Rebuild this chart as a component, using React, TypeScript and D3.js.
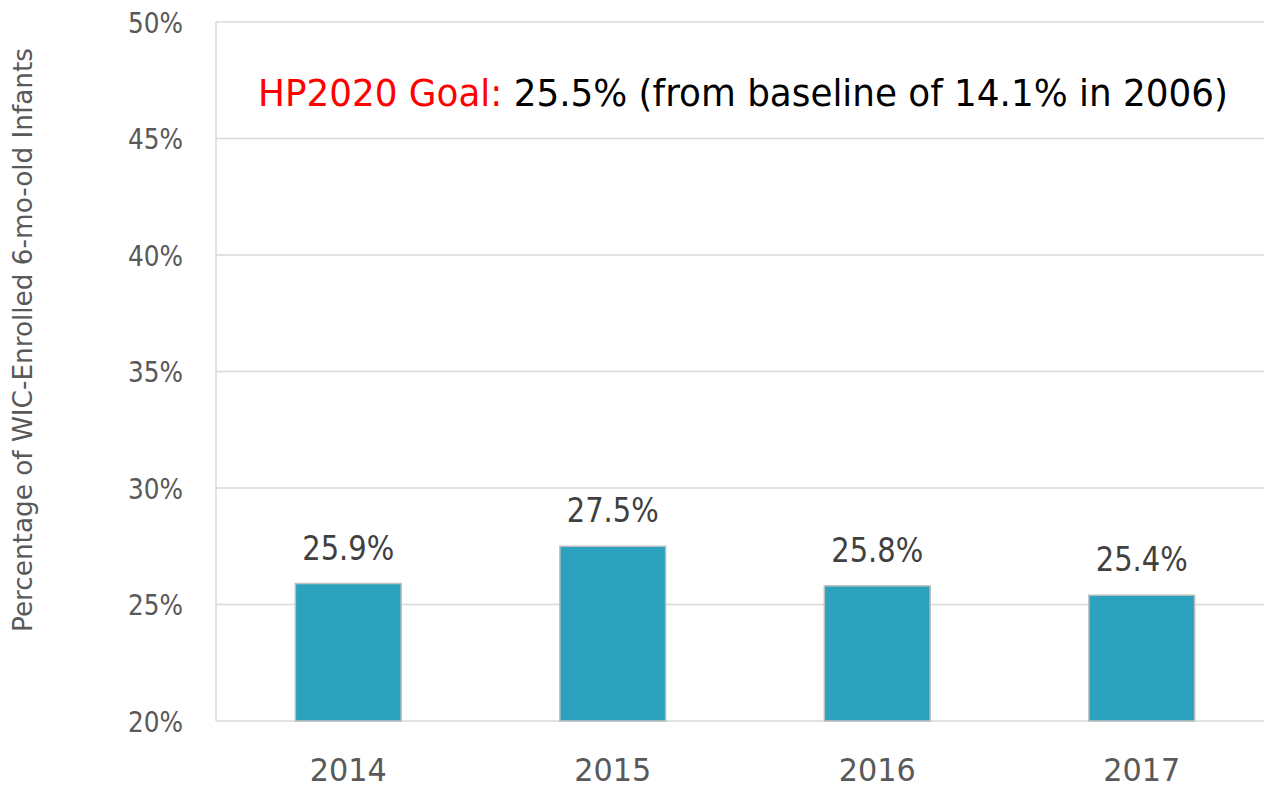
import React from "react";
import * as d3 from "d3";

const years = ["2014", "2015", "2016", "2017"];
const values = [25.9, 27.5, 25.8, 25.4];
const yTicks = [20, 25, 30, 35, 40, 45, 50];
const goalLabel = "HP2020 Goal:";
const goalText = " 25.5% (from baseline of 14.1% in 2006)";
const yTitle = "Percentage of WIC-Enrolled 6-mo-old Infants";

const W = 1264;
const H = 786;
const m = { left: 216, right: -10, top: 22, bottom: 65 };
const font = "'DejaVu Sans', Verdana, sans-serif";

export default function App() {
  const x = d3
    .scaleBand<string>()
    .domain(years)
    .range([m.left, W - m.right])
    .paddingInner(0.6)
    .paddingOuter(0.3);
  const y = d3.scaleLinear().domain([20, 50]).range([H - m.bottom, m.top]);

  return (
    <svg
      width={W}
      height={H}
      style={{ position: "absolute", left: 0, top: 0, background: "#fff" }}
      fontFamily={font}
    >
      {yTicks.map((t) => (
        <g key={t}>
          <line x1={m.left} x2={W} y1={y(t)} y2={y(t)} stroke="#d9d9d9" strokeWidth={1.5} />
          <text
            x={183}
            y={y(t) + 10.5}
            textAnchor="end"
            fontSize={29}
            fill="#595959"
            textLength={55}
            lengthAdjust="spacingAndGlyphs"
          >
            {t}%
          </text>
        </g>
      ))}
      <line x1={m.left} x2={m.left} y1={m.top} y2={y(20)} stroke="#d9d9d9" strokeWidth={1.5} />
      {years.map((yr, i) => (
        <g key={yr}>
          <rect
            x={x(yr)}
            y={y(values[i])}
            width={x.bandwidth()}
            height={y(20) - y(values[i])}
            fill="#2ca2bf"
            stroke="#bfbfbf"
            strokeWidth={1.5}
          />
          <text
            x={x(yr)! + x.bandwidth() / 2}
            y={y(values[i]) - 24}
            textAnchor="middle"
            fontSize={33}
            fill="#404040"
            textLength={92}
            lengthAdjust="spacingAndGlyphs"
          >
            {values[i].toFixed(1)}%
          </text>
          <text
            x={x(yr)! + x.bandwidth() / 2}
            y={781}
            textAnchor="middle"
            fontSize={32}
            fill="#595959"
            textLength={77}
            lengthAdjust="spacingAndGlyphs"
          >
            {yr}
          </text>
        </g>
      ))}
      <text
        x={258}
        y={106}
        fontSize={38}
        textLength={970}
        lengthAdjust="spacingAndGlyphs"
      >
        <tspan fill="#ff0000">{goalLabel}</tspan>
        <tspan fill="#000">{goalText}</tspan>
      </text>
      <text
        transform={`translate(32, 340) rotate(-90)`}
        textAnchor="middle"
        fontSize={26}
        fill="#595959"
        textLength={584}
        lengthAdjust="spacingAndGlyphs"
      >
        {yTitle}
      </text>
    </svg>
  );
}
